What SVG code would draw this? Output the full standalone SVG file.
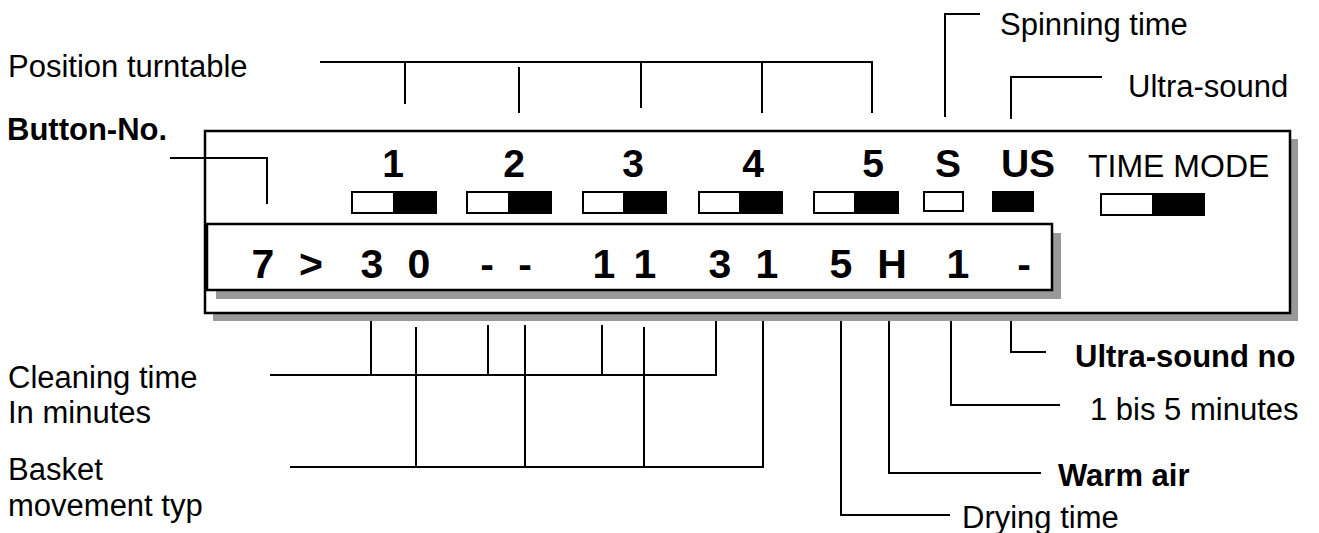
<svg xmlns="http://www.w3.org/2000/svg" width="1319" height="533" viewBox="0 0 1319 533">
<style>
.lbl{font-family:"Liberation Sans",Arial,sans-serif;font-size:31px;fill:#000}
.b{font-weight:bold}
.num{font-family:"Liberation Sans",Arial,sans-serif;font-size:39px;font-weight:bold;fill:#000;text-anchor:middle}
.disp{font-family:"Liberation Sans",Arial,sans-serif;font-size:41px;font-weight:bold;fill:#000;text-anchor:middle}
.mode{font-family:"Liberation Sans",Arial,sans-serif;font-size:32px;fill:#000}
.shadow{fill:#999999}
.box{fill:#fff;stroke:#000;stroke-width:2.5}
.sw{fill:#fff;stroke:#000;stroke-width:2}
.on{fill:#000}
.ln{fill:none;stroke:#000;stroke-width:2}
</style>
<g id="panel">
<rect class="shadow" x="213" y="139" width="1085" height="182"/>
<rect class="box" x="205" y="131" width="1085" height="182"/>
</g>
<g id="display">
<rect class="shadow" x="216" y="233" width="845" height="66"/>
<rect class="box" x="207" y="224" width="845" height="66"/>
<text class="disp" x="263" y="278">7</text>
<text class="disp" x="311" y="278">&gt;</text>
<text class="disp" x="372" y="278">3</text>
<text class="disp" x="419" y="278">0</text>
<text class="disp" x="487" y="278">-</text>
<text class="disp" x="525" y="278">-</text>
<text class="disp" x="604" y="278">1</text>
<text class="disp" x="645" y="278">1</text>
<text class="disp" x="720" y="278">3</text>
<text class="disp" x="767" y="278">1</text>
<text class="disp" x="841" y="278">5</text>
<text class="disp" x="892" y="278">H</text>
<text class="disp" x="958" y="278">1</text>
<text class="disp" x="1024" y="278">-</text>
</g>
<g id="button-numbers">
<text class="num" x="393" y="177">1</text>
<text class="num" x="514" y="177">2</text>
<text class="num" x="633" y="177">3</text>
<text class="num" x="753" y="177">4</text>
<text class="num" x="873" y="177">5</text>
<text class="num" x="948" y="177">S</text>
<text class="num" x="1028" y="177">US</text>
<text class="mode" x="1088" y="177">TIME MODE</text>
</g>
<g id="switches">
<rect class="sw" x="352" y="192" width="84" height="21"/><rect class="on" x="393" y="192" width="43" height="21"/>
<rect class="sw" x="467" y="192" width="84" height="21"/><rect class="on" x="508" y="192" width="43" height="21"/>
<rect class="sw" x="583" y="192" width="83" height="21"/><rect class="on" x="623" y="192" width="43" height="21"/>
<rect class="sw" x="699" y="192" width="83" height="21"/><rect class="on" x="739" y="192" width="43" height="21"/>
<rect class="sw" x="814" y="192" width="84" height="21"/><rect class="on" x="854" y="192" width="44" height="21"/>
<rect class="sw" x="924" y="192" width="39" height="19"/>
<rect class="on" x="993" y="192" width="40" height="19" stroke="#000" stroke-width="2"/>
<rect class="sw" x="1101" y="194" width="103" height="21"/><rect class="on" x="1152" y="194" width="52" height="21"/>
</g>
<g id="label-position"><text class="lbl" x="8" y="77">Position turntable</text></g>
<g id="label-button"><text class="lbl b" x="7" y="140">Button-No.</text></g>
<g id="label-spinning"><text class="lbl" x="1000" y="35">Spinning time</text></g>
<g id="label-ultrasound"><text class="lbl" x="1128" y="97">Ultra-sound</text></g>
<g id="label-cleaning"><text class="lbl" x="8" y="388">Cleaning time</text><text class="lbl" x="8" y="423">In minutes</text></g>
<g id="label-basket"><text class="lbl" x="8" y="480">Basket</text><text class="lbl" x="8" y="516">movement typ</text></g>
<g id="label-usno"><text class="lbl b" x="1075" y="367">Ultra-sound no</text></g>
<g id="label-minutes"><text class="lbl" x="1090" y="420">1 bis 5 minutes</text></g>
<g id="label-warm"><text class="lbl b" x="1058" y="486">Warm air</text></g>
<g id="label-drying"><text class="lbl" x="962" y="528">Drying time</text></g>
<g id="connectors">
<path class="ln" d="M320,62 H872 V113"/>
<path class="ln" d="M405,62 V104"/>
<path class="ln" d="M519,67 V113"/>
<path class="ln" d="M641,62 V108"/>
<path class="ln" d="M762,62 V113"/>
<path class="ln" d="M980,14 H945 V117"/>
<path class="ln" d="M1102,77 H1011 V119"/>
<path class="ln" d="M170,158 H267 V204"/>
<path class="ln" d="M270,375 H716 V321"/>
<path class="ln" d="M371,321 V375 M488,325 V375 M602,325 V375"/>
<path class="ln" d="M290,467 H763 V321"/>
<path class="ln" d="M416,327 V467 M525,325 V467 M644,327 V467"/>
<path class="ln" d="M1011,321 V352 H1046"/>
<path class="ln" d="M951,321 V405 H1060"/>
<path class="ln" d="M889,321 V473 H1041"/>
<path class="ln" d="M841,321 V515 H950"/>
</g>
</svg>
